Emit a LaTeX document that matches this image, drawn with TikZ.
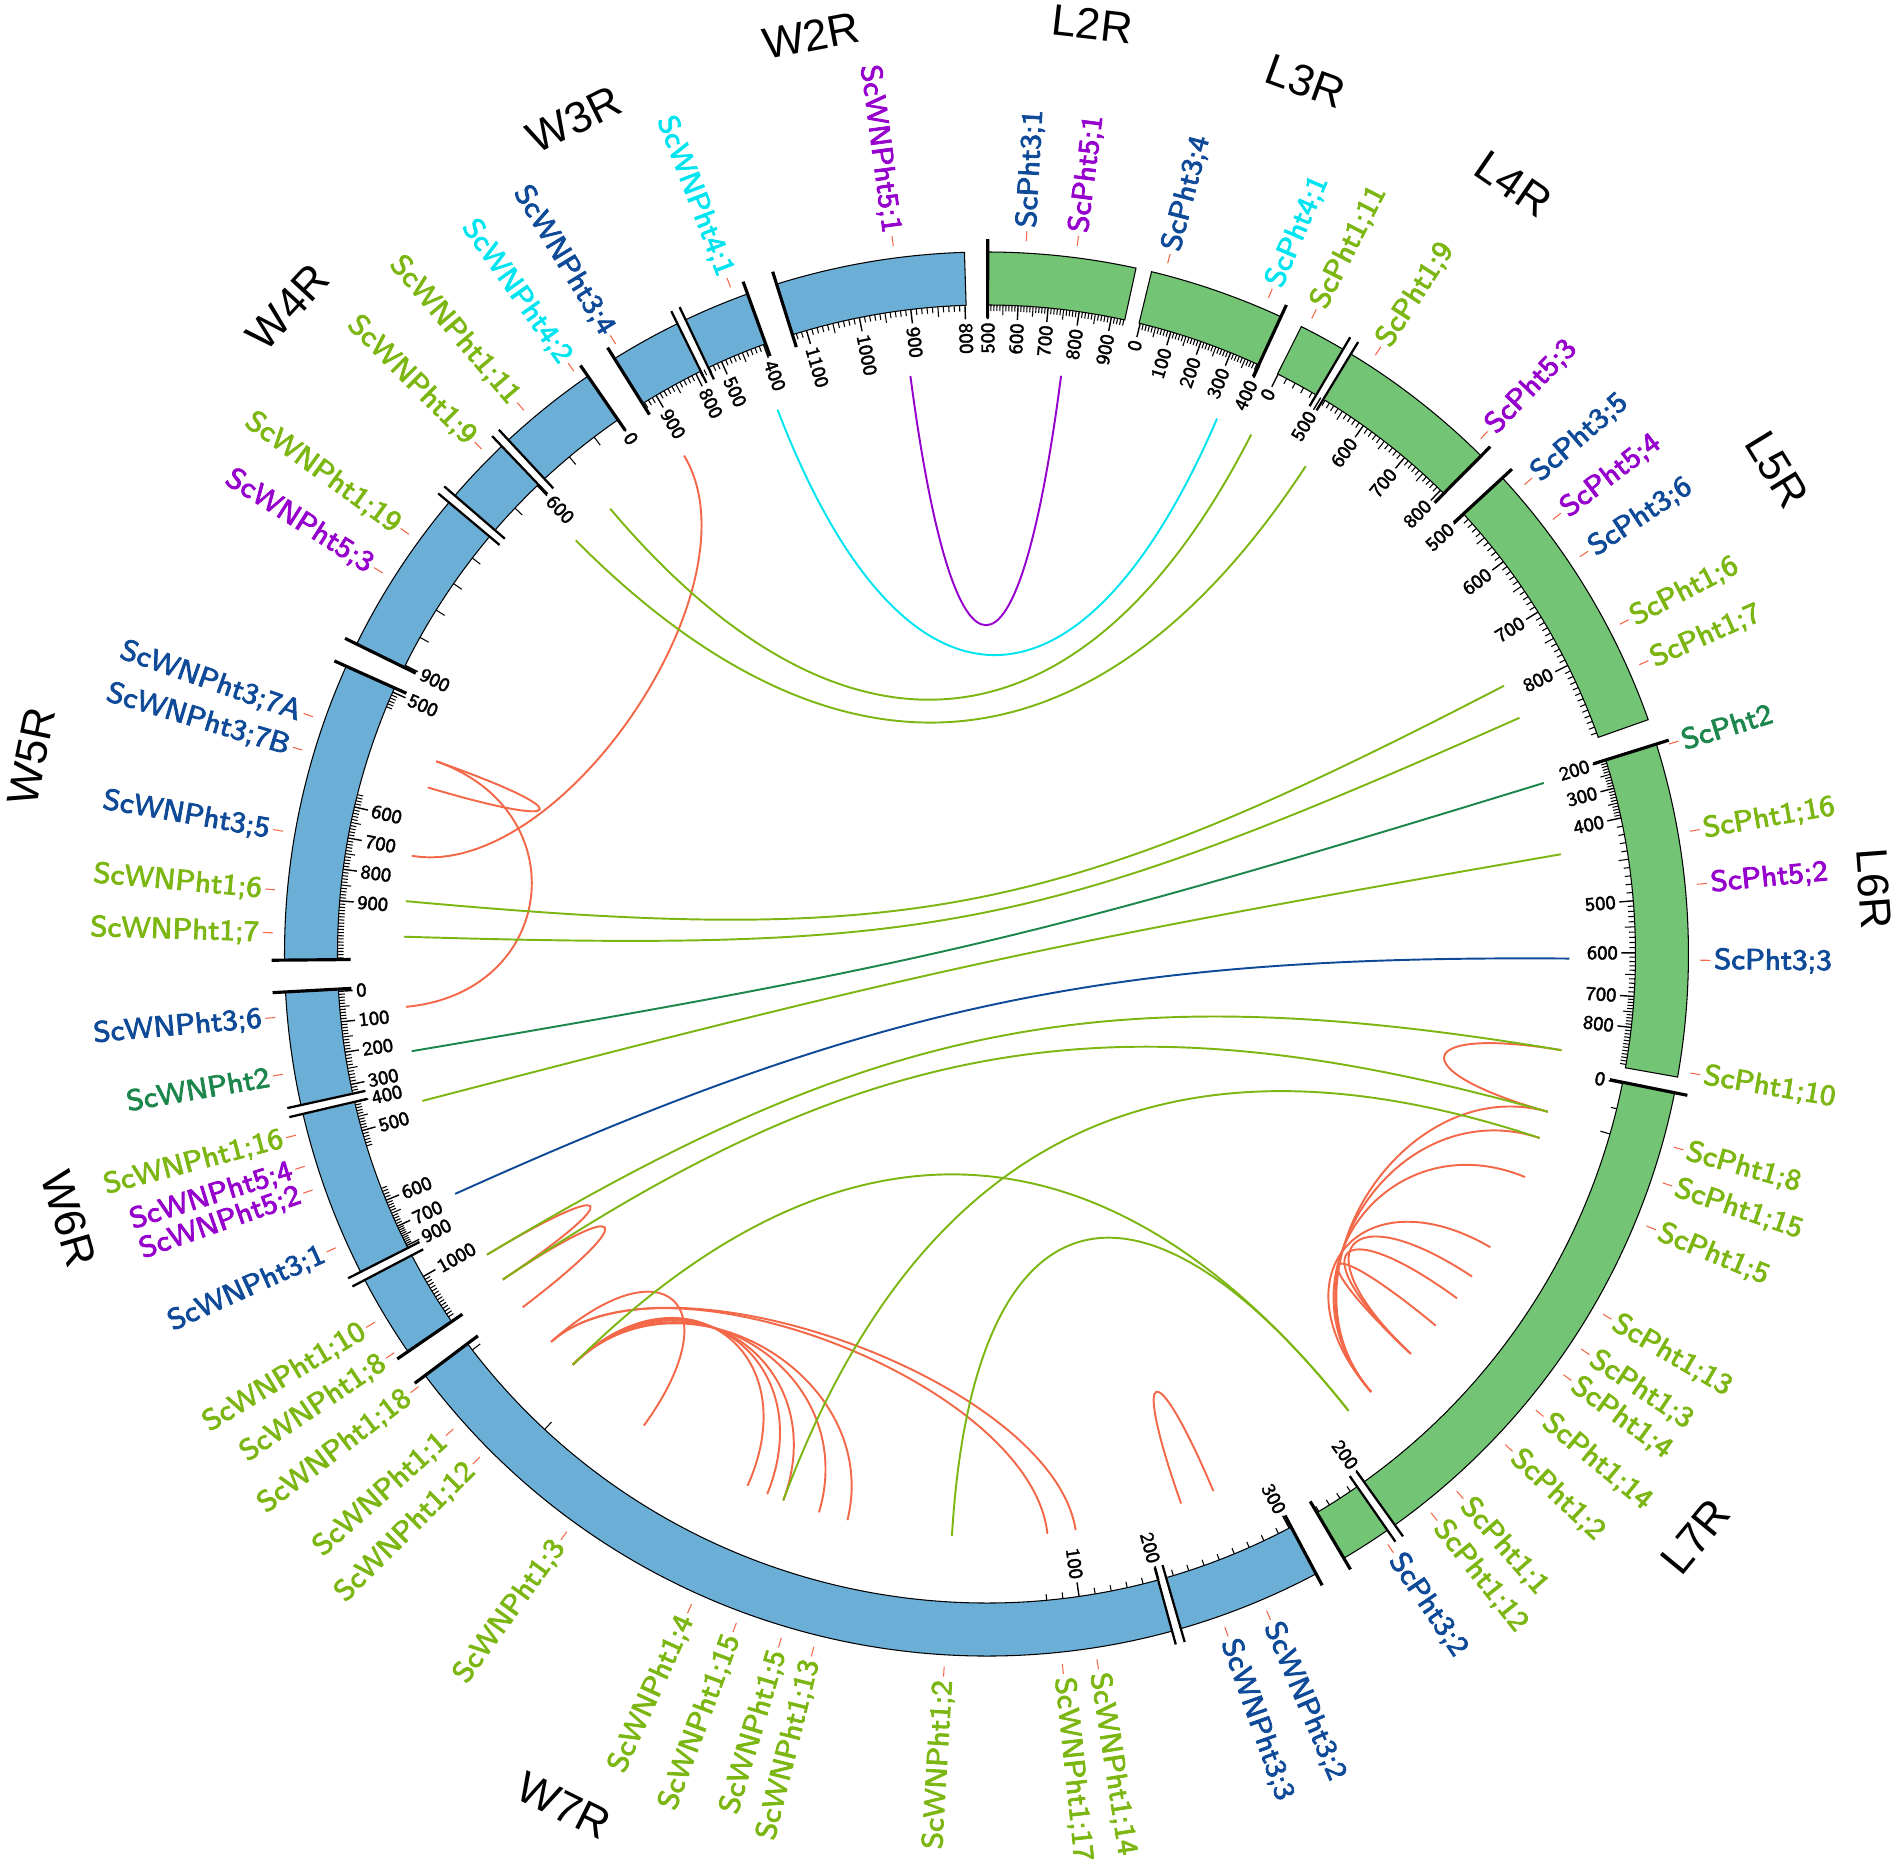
\documentclass[tikz,border=0pt]{standalone}
\usepackage{fontspec}
\newfontfamily\chrfont{Liberation Sans}
\usetikzlibrary{calc}
\definecolor{bandW}{RGB}{107,174,214}
\definecolor{bandL}{RGB}{116,196,118}
\definecolor{pone}{RGB}{124,182,18}
\definecolor{ptwo}{RGB}{28,134,76}
\definecolor{pthree}{RGB}{15,74,152}
\definecolor{pfour}{RGB}{0,228,240}
\definecolor{pfive}{RGB}{150,0,205}
\definecolor{para}{RGB}{242,104,72}
\newcommand\heavy[2]{\special{pdf:literal direct 2 Tr #1 w}#2\special{pdf:literal direct 0 Tr}}
\tikzset{band/.style={draw=black,line width=0.3pt}}
\tikzset{capl/.style={line width=0.9pt}}
\tikzset{tk/.style={line width=0.3pt}}
\tikzset{tlab/.style={font=\sffamily\fontsize{5.5}{5.5}\selectfont,inner sep=0pt}}
\tikzset{glab/.style={font=\sffamily\fontsize{8.3}{8.3}\selectfont,inner sep=0pt}}
\tikzset{clab/.style={font=\chrfont\fontsize{12.5}{12.5}\selectfont,inner sep=0pt}}
\tikzset{lk/.style={line width=0.55pt}}
\tikzset{rtk/.style={draw=para,line width=0.3pt}}
\newcommand\seg[3]{\filldraw[band,fill=#1] (#2:702) arc[start angle=#2,end angle=#3,radius=702] -- (#3:649) arc[start angle=#3,end angle=#2,radius=649] -- cycle;}
\newcommand\capline[1]{\draw[capl] (#1:636) -- (#1:715);}
\newcommand\brk[1]{\draw[white,line width=3pt] (#1:630) -- (#1:722);
  \draw[capl,line width=0.65pt] (#1+0.37:636) -- (#1+0.37:716) (#1-0.37:636) -- (#1-0.37:716);}
\newcommand\minint[2]{\foreach \k in {1,...,9}{\pgfmathsetmacro\ta{(#1)+((#2)-(#1))*\k/10}
  \ifnum\k=5 \draw[tk] (\ta:649) -- (\ta:639);\else\draw[tk] (\ta:649) -- (\ta:643);\fi}}
\newcommand\minrun[3]{\foreach \k in {1,...,#3}{\pgfmathsetmacro\ta{(#1)+(#2)*\k}\draw[tk] (\ta:649) -- (\ta:643);}}

\begin{document}
\begin{tikzpicture}[x=0.01cm,y=0.01cm]
\useasboundingbox (-986.5,-907) rectangle (906.5,954);
\coordinate (O) at (0,0);

\foreach \n/\a in {w51/97.5, l51/82.65, w41/111.0, l41/66.7, w111/130.2, l111/63.0, w19/134.8, l19/56.8,
  w16/174.8, l16/27.4, w17/178.3, l17/23.9, w116/194.6, l116/9.85, w2/189.6, l2/17.06, w31/204.3, l33/359.55,
  w110/211.05, l110/350.5, w18/213.95, l18/344.3, w112/224.8, l112/308.4, w115/249.6, l115/341.6, w12/266.6, l12/316.7,
  w34/121.25, w35/170.3, w37a/160.7, w37b/163.4, w36/185.2, w118/217.3, w11/221.7, w13/234.0, w14/245.8, w14b/247.9,
  w15/253.3, w113/256.2, w117/276.0, w114/278.8, w33/289.5, w32/292.9,
  l11/311.3, l113/329.8, l15/337.5, l114/320.4, l14/323.8, l13/326.4}
  \coordinate (\n) at (\a:583);

\foreach \p/\q in {w34/w35, w37a/w37b, w37a/w36, w110/w18, w18/w118, w11/w13, w112/w14, w112/w14b, w112/w115,
  w112/w15, w112/w113, w11/w117, w11/w114, w33/w32, l110/l18, l11/l113, l11/l15, l11/l115, l11/l18,
  l12/l114, l12/l14, l12/l13}
  \draw[lk,para] (\p) .. controls ($(O)!0.741!(\p)$) and ($(O)!0.741!(\q)$) .. (\q);
\foreach \p/\q/\f in {w111/l111/0.374, w19/l19/0.356, w16/l16/0.13, w17/l17/0.09, w116/l116/0.11,
  w110/l110/0.216, w18/l18/0.24, w112/l112/0.346, w115/l115/0.33, w12/l112/0.407}
  \draw[lk,pone] (\p) .. controls ($(O)!\f!(\p)$) and ($(O)!\f!(\q)$) .. (\q);
\draw[lk,pfive] (w51) .. controls ($(O)!0.425!(w51)$) and ($(O)!0.425!(l51)$) .. (l51);
\draw[lk,pfour] (w41) .. controls ($(O)!0.405!(w41)$) and ($(O)!0.405!(l41)$) .. (l41);
\draw[lk,ptwo] (w2) .. controls ($(O)!0.10!(w2)$) and ($(O)!0.10!(l2)$) .. (l2);
\draw[lk,pthree] (w31) .. controls ($(O)!0.21!(w31)$) and ($(O)!0.21!(l33)$) .. (l33);

\seg{bandW}{91.8}{107.4}
\seg{bandW}{109.9}{122.0}
\seg{bandW}{124.6}{153.8}
\seg{bandW}{155.8}{180.5}
\seg{bandW}{183.1}{214.5}
\seg{bandW}{216.9}{298.0}
\seg{bandL}{77.7}{89.9}
\seg{bandL}{65.2}{76.4}
\seg{bandL}{45.2}{63.35}
\seg{bandL}{19.5}{42.7}
\seg{bandL}{-10.1}{17.4}
\seg{bandL}{-59.4}{-11.4}
\foreach \a in {115.75, 133.3, 139.6, 192.8, 207.3, 285.7, 59.1, -54.8} {\brk{\a}}
\foreach \a in {107.4, 109.9, 122.0, 124.6, 153.8, 155.8, 180.5, 183.1, 214.5, 216.9, 298.0,
  89.9, 65.2, 45.2, 42.7, 17.4, -11.4, -59.4} {\capline{\a}}

\foreach \a/\b in {89.87/87.21, 87.21/84.55, 84.55/81.79, 81.79/78.9, 76.3/73.5, 73.5/70.7, 70.7/67.9, 67.9/65.1,
  59.0/54.5, 54.5/49.9, 49.9/45.6, 42.6/37.2, 37.2/31.8, 31.8/26.4,
  17.35/14.8, 14.8/12.1, 12.1/4.7, 4.7/0.1, 0.1/-3.75, -3.75/-6.5,
  183.3/186.0, 186.0/188.7, 188.7/191.6, 193.2/195.8, 202.3/204.8, 204.8/206.7,
  166.9/169.7, 169.7/172.5, 172.5/175.3, 110.1/114.1, 116.6/120.6,
  91.9/96.7, 96.7/101.3, 101.3/106.1} {\minint{\a}{\b}}
\foreach \a/\s/\n in {78.9/-0.28/4, 63.3/-0.85/4, 26.4/-0.54/12, -6.5/-0.3/11, 191.6/0.27/3, 195.8/0.28/5,
  202.3/-0.28/4, 209.8/0.3/14, 156.2/0.28/5, 166.9/-0.28/4, 175.3/0.28/18, 114.1/0.4/3, 116.6/-0.4/2,
  120.6/0.4/3, 106.1/0.47/2, 278.2/-1.44/2, 278.2/1.44/4, 285.3/1.43/8, -11.5/-2.3/1, -54.8/-1.1/4} {\minrun{\a}{\s}{\n}}
\foreach \a in {217.6, 227.1, 127.2, 130.0, 136.6, 142.4, 145.2, 148.0, 150.8, -16.1}
  \draw[tk] (\a:649) -- (\a:639);

\foreach \a/\v [count=\i] in {89.87/500, 87.21/600, 84.55/700, 81.79/800, 78.9/900,
  76.3/0, 73.5/100, 70.7/200, 67.9/300, 65.1/400, 63.3/0, 59.0/500, 54.5/600, 49.9/700, 45.6/800,
  42.6/500, 37.2/600, 31.8/700, 26.4/800,
  17.35/200, 14.8/300, 12.1/400, 4.7/500, 0.1/600, -3.75/700, -6.5/800, -11.5/0, -54.4/200,
  278.2/100, 285.4/200, 297.8/300,
  183.3/0, 186.0/100, 188.7/200, 191.6/300, 193.2/400, 195.8/500, 202.3/600, 204.8/700, 206.7/900, 209.8/1000,
  156.2/500, 166.9/600, 169.7/700, 172.5/800, 175.3/900, 124.6/0, 133.8/600, 153.6/900,
  110.1/400, 114.1/500, 116.6/800, 120.6/900, 91.9/800, 96.7/900, 101.3/1000, 106.1/1100} {
  \draw[tk,line width=0.4pt] (\a:649) -- (\a:635);
  \pgfmathtruncatemacro\rs{cos(\a)>0}
  \ifnum\rs=1
    \node[tlab,rotate=\a,anchor=east] (tl\i) at (\a:632) {\heavy{0.1}{\v}};
  \else
    \node[tlab,rotate=\a+180,anchor=west] (tl\i) at (\a:632) {\heavy{0.1}{\v}};
  \fi
}

\foreach \a/\lbl/\col [count=\i] in {97.5/ScWNPht5;1/pfive, 111.0/ScWNPht4;1/pfour, 121.3/ScWNPht3;4/pthree,
  125.3/ScWNPht4;2/pfour, 130.4/ScWNPht1;11/pone, 135.0/ScWNPht1;9/pone, 144.0/ScWNPht1;19/pone,
  147.75/ScWNPht5;3/pfive, 160.6/ScWNPht3;7A/pthree, 163.4/ScWNPht3;7B/pthree, 170.1/ScWNPht3;5/pthree,
  174.85/ScWNPht1;6/pone, 178.3/ScWNPht1;7/pone, 185.1/ScWNPht3;6/pthree, 189.7/ScWNPht2/ptwo,
  194.7/ScWNPht1;16/pone, 197.3/ScWNPht5;4/pfive, 199.3/ScWNPht5;2/pfive, 204.3/ScWNPht3;1/pthree,
  211.05/ScWNPht1;10/pone, 213.95/ScWNPht1;8/pone, 217.3/ScWNPht1;18/pone, 221.7/ScWNPht1;1/pone,
  224.8/ScWNPht1;12/pone, 234.0/ScWNPht1;3/pone, 245.6/ScWNPht1;4/pone, 249.5/ScWNPht1;15/pone,
  253.3/ScWNPht1;5/pone, 256.0/ScWNPht1;13/pone, 266.6/ScWNPht1;2/pone, 276.1/ScWNPht1;17/pone,
  278.9/ScWNPht1;14/pone, 289.5/ScWNPht3;3/pthree, 293.1/ScWNPht3;2/pthree,
  304.2/ScPht3;2/pthree, 308.5/ScPht1;12/pone, 311.2/ScPht1;1/pone, 316.6/ScPht1;2/pone,
  320.3/ScPht1;14/pone, 323.9/ScPht1;4/pone, 326.4/ScPht1;3/pone, 329.7/ScPht1;13/pone,
  337.6/ScPht1;5/pone, 341.3/ScPht1;15/pone, 344.3/ScPht1;8/pone, 350.4/ScPht1;10/pone,
  359.5/ScPht3;3/pthree, 5.6/ScPht5;2/pfive, 9.9/ScPht1;16/pone, 17.1/ScPht2/ptwo, 23.9/ScPht1;7/pone,
  27.5/ScPht1;6/pone, 33.8/ScPht3;6/pthree, 37.5/ScPht5;4/pfive, 41.1/ScPht3;5/pthree, 46.2/ScPht5;3/pfive,
  57.0/ScPht1;9/pone, 62.9/ScPht1;11/pone, 66.75/ScPht4;1/pfour, 75.3/ScPht3;4/pthree,
  82.7/ScPht5;1/pfive, 86.8/ScPht3;1/pthree} {
  \draw[rtk] (\a:714) -- (\a:724);
  \pgfmathtruncatemacro\rs{cos(\a)>0}
  \ifnum\rs=1
    \node[glab,text=\col,rotate=\a,anchor=west] (gl\i) at (\a:727) {\heavy{0.22}{\lbl}};
  \else
    \node[glab,text=\col,rotate=\a+180,anchor=east] (gl\i) at (\a:727) {\heavy{0.22}{\lbl}};
  \fi
}

\foreach \a/\r/\n in {83.5/936/L2R, 100.8/935/W2R, 69.9/929/L3R, 116.3/931/W3R, 55.6/933/L4R, 137.2/952/W4R,
  31.5/927/L5R, 168.3/975/W5R, 4.2/890/L6R, 196.1/955/W6R, 320.6/918/L7R, 243.6/951/W7R} {
  \pgfmathtruncatemacro\up{sin(\a)>0}
  \ifnum\up=1
    \node[clab,rotate=\a-90] (\n) at (\a:\r) {\n};
  \else
    \node[clab,rotate=\a+90] (\n) at (\a:\r) {\n};
  \fi
}
\end{tikzpicture}
\end{document}
